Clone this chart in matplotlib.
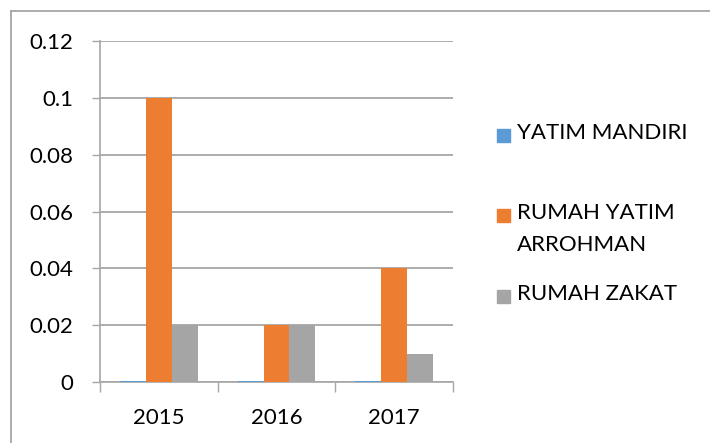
import matplotlib
matplotlib.use('Agg')
import matplotlib.pyplot as plt
from matplotlib.lines import Line2D
from matplotlib.patches import Rectangle
import numpy as np

plt.rcParams['font.family'] = ['Lato', 'DejaVu Sans']

years = ['2015', '2016', '2017']
series = ['YATIM MANDIRI', 'RUMAH YATIM\nARROHMAN', 'RUMAH ZAKAT']
yatim_mandiri = [0.0004, 0.0004, 0.0004]
rumah_yatim = [0.1, 0.02, 0.04]
rumah_zakat = [0.02, 0.02, 0.01]
yticks = [0, 0.02, 0.04, 0.06, 0.08, 0.1, 0.12]
ytick_labels = ['0', '0.02', '0.04', '0.06', '0.08', '0.1', '0.12']

colors = ['#5B9BD5', '#ED7D31', '#A5A5A5']
grey = '#A6A6A6'
fs = 16

fig = plt.figure(figsize=(7.1, 4.43), dpi=100)
ax = fig.add_axes([0.141, 0.1377, 0.497, 0.7697])

x = np.arange(len(years))
w = 0.22
for i, vals in enumerate([yatim_mandiri, rumah_yatim, rumah_zakat]):
    ax.bar(x + (i - 1) * w, vals, w, color=colors[i], zorder=3)

ax.set_xlim(-0.5, 2.5)
ax.set_ylim(0, 0.12)
ax.set_yticks(yticks)
ax.set_yticklabels(ytick_labels)
ax.yaxis.grid(True, color=grey, linewidth=1.3, zorder=0)

ax.set_xticks([-0.5, 0.5, 1.5, 2.5])
ax.set_xticklabels([])
ax.set_xticks(x, minor=True)
ax.set_xticklabels(years, minor=True)
ax.tick_params(axis='x', which='major', length=7, color=grey, width=1)
ax.tick_params(axis='x', which='minor', length=0, pad=19, labelsize=fs)
ax.tick_params(axis='y', length=6, color=grey, width=1, pad=13, labelsize=fs)

for s in ['top', 'right']:
    ax.spines[s].set_visible(False)
for s in ['left', 'bottom']:
    ax.spines[s].set_color(grey)
    ax.spines[s].set_linewidth(1.2)

# legend, drawn by hand to keep the Excel layout
leg_y = [1 - 135 / 443, 1 - 215 / 443, 1 - 296 / 443]
for i, name in enumerate(series):
    fig.add_artist(Rectangle((497 / 710, leg_y[i] - 6.5 / 443), 13 / 710, 13 / 443,
                             transform=fig.transFigure, color=colors[i]))
    fig.text(517 / 710, leg_y[i] + 12 / 443, name, fontsize=fs, va='top',
             linespacing=1.75)

# outer chart border
fig.add_artist(Line2D([11 / 710, 1], [1 - 11 / 443, 1 - 11 / 443],
                      transform=fig.transFigure, color=grey, linewidth=1.3))
fig.add_artist(Line2D([11 / 710, 11 / 710], [0, 1 - 11 / 443],
                      transform=fig.transFigure, color=grey, linewidth=1.3))

fig.savefig('out.png', dpi=100)
